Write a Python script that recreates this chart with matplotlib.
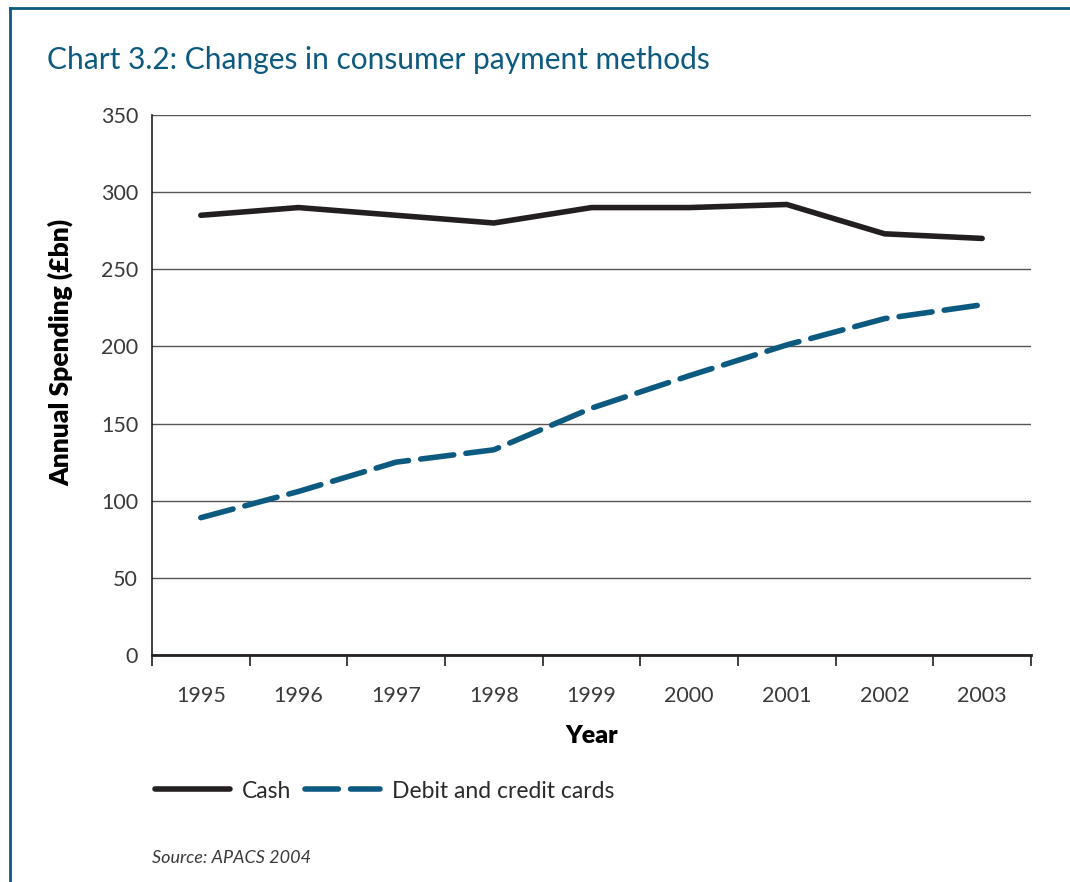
import matplotlib.pyplot as plt
from matplotlib.lines import Line2D

years = ['1995', '1996', '1997', '1998', '1999', '2000', '2001', '2002', '2003']
cash = [285, 290, 285, 280, 290, 290, 292, 273, 270]
cards = [89, 106, 125, 133, 160, 181, 201, 218, 227]

teal = '#0d5a80'
plt.rcParams['font.family'] = ['Lato', 'DejaVu Sans']

fig = plt.figure(figsize=(10.7, 8.82), dpi=100)
W, H = 1070, 882
ax = fig.add_axes([152 / W, 1 - 655 / H, (1031 - 152) / W, (655 - 115) / H])

x = list(range(len(years)))
ax.plot(x, cash, color='#231f20', lw=4, solid_capstyle='round', label='Cash')
ax.plot(x, cards, color=teal, lw=4, dashes=(6, 2.2), dash_capstyle='round',
        label='Debit and credit cards')

ax.set_xlim(-0.5, len(years) - 0.5)
ax.set_ylim(0, 350)
ax.set_yticks(range(0, 351, 50))
ax.yaxis.grid(True, color='#555555', lw=1)
ax.set_axisbelow(True)
ax.set_xticks([i - 0.5 for i in range(len(years) + 1)])
ax.set_xticklabels([])
ax.set_xticks(x, minor=True)
ax.set_xticklabels(years, minor=True)
ax.tick_params(axis='x', which='major', length=8, width=1.2, direction='out', color='#231f20')
ax.tick_params(axis='x', which='minor', length=0, pad=22, labelsize=15.5, labelcolor='#3a3a3a')
ax.tick_params(axis='y', length=0, pad=10, labelsize=15.5, labelcolor='#3a3a3a')

for s in ['top', 'right']:
    ax.spines[s].set_visible(False)
ax.spines['left'].set_color('#231f20')
ax.spines['left'].set_linewidth(1.2)
ax.spines['bottom'].set_color('#231f20')
ax.spines['bottom'].set_linewidth(2)

ax.set_ylabel('Annual Spending (£bn)', fontsize=19, fontweight='heavy')
ax.yaxis.set_label_coords(-0.09, 0.561)
ax.set_xlabel('Year', fontsize=18, fontweight='heavy', labelpad=14)

fig.text(47 / W, 1 - 60 / H, 'Chart 3.2: Changes in consumer payment methods',
         fontsize=21.5, color=teal, va='center')
fig.text(152 / W, 1 - 858 / H, 'Source: APACS 2004', fontsize=13, style='italic',
         color='#3a3a3a', va='center')

fig.legend(loc='center left', bbox_to_anchor=(134 / W, 1 - 791 / H), ncol=2, frameon=False,
           fontsize=16.5, labelcolor='#2a2a2a', handlelength=3.3, handletextpad=0.5,
           columnspacing=0.6)

fig.add_artist(Line2D([10 / W, 1], [1 - 8 / H, 1 - 8 / H], transform=fig.transFigure,
                      color=teal, lw=2))
fig.add_artist(Line2D([10 / W, 10 / W], [0, 1 - 8 / H], transform=fig.transFigure,
                      color=teal, lw=2))

fig.savefig('out.png', dpi=100)
